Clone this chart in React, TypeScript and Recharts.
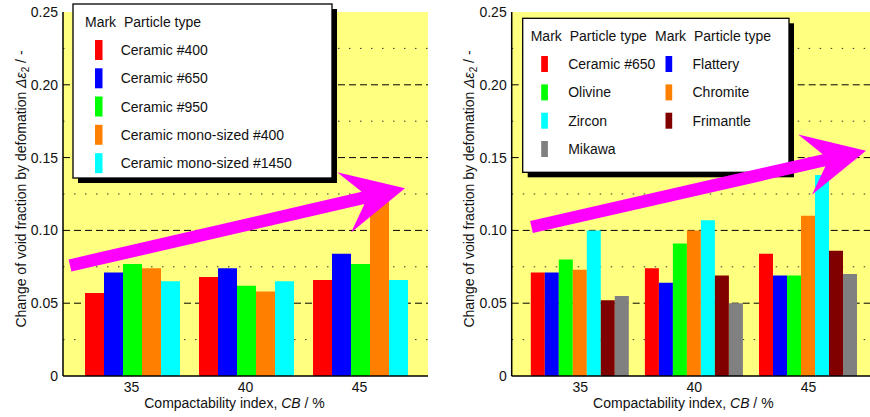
import React from 'react'
import { Bar, BarChart, CartesianGrid, Label, XAxis, YAxis } from 'recharts'

// Compactability index CB (%)
const categories = ['35', '40', '45']

// Change of void fraction by deformation, one value per CB
const ceramic400 = [0.057, 0.068, 0.066]
const ceramic650 = [0.071, 0.074, 0.084]
const ceramic950 = [0.077, 0.062, 0.077]
const monoSized400 = [0.074, 0.058, 0.12]
const monoSized1450 = [0.065, 0.065, 0.066]

const flattery = [0.071, 0.064, 0.069]
const olivine = [0.08, 0.091, 0.069]
const chromite = [0.073, 0.1, 0.11]
const zircon = [0.1, 0.107, 0.138]
const frimantle = [0.052, 0.069, 0.086]
const mikawa = [0.055, 0.05, 0.07]

const yTicks = [0, 0.05, 0.1, 0.15, 0.2, 0.25]
const majorLines = [0.05, 0.1, 0.15, 0.2]
const minorLines = [0.025, 0.075, 0.125, 0.175, 0.225]

interface Series {
  key: string
  name: string
  color: string
  values: number[]
}

const ceramicSeries: Series[] = [
  { key: 'c400', name: 'Ceramic #400', color: '#ff0000', values: ceramic400 },
  { key: 'c650', name: 'Ceramic #650', color: '#0000ff', values: ceramic650 },
  { key: 'c950', name: 'Ceramic #950', color: '#00ff00', values: ceramic950 },
  { key: 'm400', name: 'Ceramic mono-sized #400', color: '#ff8000', values: monoSized400 },
  { key: 'm1450', name: 'Ceramic mono-sized #1450', color: '#00ffff', values: monoSized1450 },
]

const sandSeries: Series[] = [
  { key: 'c650', name: 'Ceramic #650', color: '#ff0000', values: ceramic650 },
  { key: 'flattery', name: 'Flattery', color: '#0000ff', values: flattery },
  { key: 'olivine', name: 'Olivine', color: '#00ff00', values: olivine },
  { key: 'chromite', name: 'Chromite', color: '#ff8000', values: chromite },
  { key: 'zircon', name: 'Zircon', color: '#00ffff', values: zircon },
  { key: 'frimantle', name: 'Frimantle', color: '#800000', values: frimantle },
  { key: 'mikawa', name: 'Mikawa', color: '#808080', values: mikawa },
]

const buildRows = (series: Series[]) =>
  categories.map((cb, i) => {
    const row: Record<string, any> = { cb }
    series.forEach((s) => {
      row[s.key] = s.values[i]
    })
    return row
  })

const FONT = '"Liberation Sans", Arial, Helvetica, sans-serif'
const frameLine = { stroke: '#000', strokeWidth: 1.5 }

const XTitle = (props: any) => {
  const { x, y, width } = props.viewBox
  return (
    <text x={x + width / 2 - 11} y={y + 32} textAnchor="middle" fontSize={14} fill="#111">
      Compactability index, <tspan fontStyle="italic">CB</tspan> / %
    </text>
  )
}

const YTitle = (props: any) => {
  const { x, y, width, height } = props.viewBox
  const cx = x + width - 37.5
  const cy = y + height / 2 - 5
  return (
    <text
      x={cx}
      y={cy}
      transform={`rotate(-90 ${cx} ${cy})`}
      textAnchor="middle"
      fontSize={14}
      fill="#111"
    >
      Change of void fraction by defomation{' '}
      <tspan fontStyle="italic">Δε</tspan>
      <tspan fontSize={10} dy={3}>2</tspan>
      <tspan dy={-3}> / -</tspan>
    </text>
  )
}

interface PanelProps {
  series: Series[]
  width: number
  leftMargin: number
  gap: number
}

const Panel = ({ series, width, leftMargin, gap }: PanelProps) => (
  <BarChart
    width={width}
    height={417}
    data={buildRows(series)}
    margin={{ top: 12, right: 7, left: leftMargin, bottom: 0 }}
    barGap={0}
    barCategoryGap={gap}
  >
    <CartesianGrid
      vertical={false}
      horizontalValues={majorLines}
      fill="#ffff80"
      fillOpacity={1}
      stroke="#000"
      strokeDasharray="7 4"
    />
    <CartesianGrid
      vertical={false}
      horizontalValues={minorLines}
      stroke="#333"
      strokeDasharray="1.5 9.5"
    />
    <XAxis
      dataKey="cb"
      height={41}
      padding={{ left: 11.5, right: 11.5 }}
      tickLine={false}
      tickSize={0}
      tickMargin={6}
      axisLine={frameLine}
      tick={{ fill: '#111', fontSize: 14 }}
    >
      <Label content={XTitle} />
    </XAxis>
    <XAxis
      xAxisId="top"
      orientation="top"
      dataKey="cb"
      height={0}
      tick={false}
      tickLine={false}
      axisLine={frameLine}
    />
    <YAxis
      width={55}
      domain={[0, 0.25]}
      ticks={yTicks}
      tickFormatter={(v: number) => (v === 0 ? '0' : v.toFixed(2))}
      tickLine={false}
      tickSize={0}
      tickMargin={5}
      axisLine={frameLine}
      tick={{ fill: '#111', fontSize: 14 }}
    >
      <Label content={YTitle} />
    </YAxis>
    <YAxis
      yAxisId="frame"
      orientation="right"
      width={0}
      domain={[0, 0.25]}
      tick={false}
      tickLine={false}
      axisLine={frameLine}
    />
    {series.map((s) => (
      <Bar key={s.key} dataKey={s.key} name={s.name} fill={s.color} isAnimationActive={false} />
    ))}
  </BarChart>
)

// Notched arrow outline from tail centre to tip
const arrowPoints = (
  tail: [number, number],
  tip: [number, number],
  shaft = 12.5,
  notch = 43,
  back = 62.5,
  half = 31
) => {
  const dx = tip[0] - tail[0]
  const dy = tip[1] - tail[1]
  const len = Math.hypot(dx, dy)
  const ux = dx / len
  const uy = dy / len
  const nx = -uy
  const ny = ux
  const pt = (bx: number, by: number, along: number, side: number) =>
    `${bx - ux * along + nx * side},${by - uy * along + ny * side}`
  return [
    pt(tail[0], tail[1], 0, -shaft / 2),
    pt(tip[0], tip[1], notch, -shaft / 2),
    pt(tip[0], tip[1], back, -half),
    pt(tip[0], tip[1], 0, 0),
    pt(tip[0], tip[1], back, half),
    pt(tip[0], tip[1], notch, shaft / 2),
    pt(tail[0], tail[1], 0, shaft / 2),
  ].join(' ')
}

interface LegendBoxProps {
  x: number
  y: number
  w: number
  h: number
  columns: number[]
  swatchDx: number
  textDx: number
  swatchW: number
  swatchH: number
  headerY: number
  rowY: number[]
  series: Series[]
}

const LegendBox = ({ x, y, w, h, columns, swatchDx, textDx, swatchW, swatchH, headerY, rowY, series }: LegendBoxProps) => (
  <g fontSize={14} fill="#111">
    <rect x={x + 5} y={y + 5} width={w} height={h} fill="#000" />
    <rect x={x} y={y} width={w} height={h} fill="#fff" stroke="#000" strokeWidth={1.3} />
    {columns.map((cx, c) => (
      <g key={`head-${c}`}>
        <text x={cx} y={headerY + 5}>Mark</text>
        <text x={cx + 39} y={headerY + 5}>Particle type</text>
      </g>
    ))}
    {series.map((s, i) => {
      const col = columns[i % columns.length]
      const cy = rowY[Math.floor(i / columns.length)]
      return (
        <g key={s.key}>
          <rect x={col + swatchDx} y={cy - swatchH / 2} width={swatchW} height={swatchH} fill={s.color} />
          <text x={col + textDx} y={cy + 5}>{s.name}</text>
        </g>
      )
    })}
  </g>
)

export default function App() {
  return (
    <div
      style={{
        position: 'absolute',
        left: 0,
        top: 0,
        width: 870,
        height: 417,
        overflow: 'hidden',
        background: '#fff',
        fontFamily: FONT,
      }}
    >
      <div style={{ position: 'absolute', left: 0, top: 0 }}>
        <Panel series={ceramicSeries} width={435} leftMargin={8} gap={10.5} />
      </div>
      <div style={{ position: 'absolute', left: 435, top: 0 }}>
        <Panel series={sandSeries} width={449} leftMargin={21.7} gap={7.6} />
      </div>
      <svg
        width={870}
        height={417}
        style={{ position: 'absolute', left: 0, top: 0, pointerEvents: 'none', fontFamily: FONT }}
      >
        <LegendBox
          x={73}
          y={4}
          w={259}
          h={174}
          columns={[85]}
          swatchDx={10}
          textDx={35.7}
          swatchW={7.5}
          swatchH={20}
          headerY={21.7}
          rowY={[50, 78.3, 106.5, 134.8, 163.2]}
          series={ceramicSeries}
        />
        <LegendBox
          x={522.7}
          y={18.3}
          w={266.3}
          h={154}
          columns={[530.7, 655]}
          swatchDx={10.5}
          textDx={37.5}
          swatchW={6.7}
          swatchH={16}
          headerY={35.7}
          rowY={[64, 92.4, 120.7, 149]}
          series={sandSeries}
        />
        <polygon points={arrowPoints([70, 265.5], [405, 188.3])} fill="#ff00ff" />
        <polygon points={arrowPoints([531.5, 227], [866, 150.7])} fill="#ff00ff" />
      </svg>
    </div>
  )
}
